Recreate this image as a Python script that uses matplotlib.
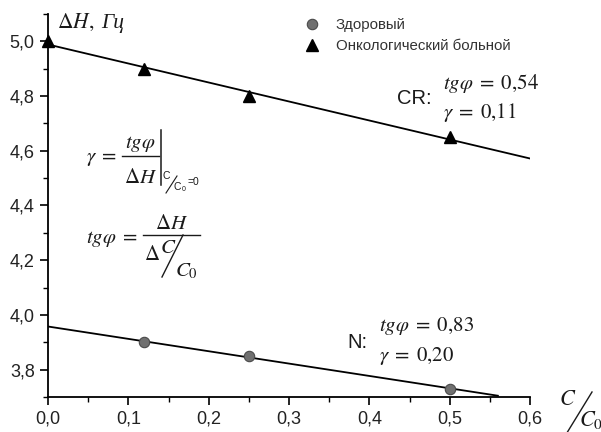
import numpy as np
import matplotlib.pyplot as plt
from matplotlib.lines import Line2D
from matplotlib.ticker import MultipleLocator, FuncFormatter

# Данные
x_cr = [0.0, 0.12, 0.25, 0.5]
y_cr = [5.0, 4.90, 4.80, 4.65]
x_n = [0.12, 0.25, 0.5]
y_n = [3.90, 3.85, 3.73]
legend_labels = ['Здоровый', 'Онкологический больной']

plt.rcParams['font.family'] = ['Liberation Sans', 'DejaVu Sans']
plt.rcParams['mathtext.fontset'] = 'stix'

W, H = 601, 432
fig = plt.figure(figsize=(W / 100, H / 100), dpi=100)
ax = fig.add_axes([48 / W, 1 - 397 / H, (530 - 48) / W, (397 - 14) / H])

def px(x, y):
    return x / W, 1 - y / H

def seg(x0, y0, x1, y1, lw=1.0):
    # отрезок в пикселях картинки
    fig.add_artist(Line2D([x0 / W, x1 / W], [1 - y0 / H, 1 - y1 / H],
                          transform=fig.transFigure, color='#1a1a1a', lw=lw))

def t(x, y, s, size=15, ha='left', va='baseline', **kw):
    fig.text(*px(x, y), s, fontsize=size, ha=ha, va=va, color='#1a1a1a', **kw)

# линейные аппроксимации
k_cr, b_cr = np.polyfit(x_cr, y_cr, 1)
k_n, b_n = np.polyfit(x_n, y_n, 1)
xx = np.array([0.0, 0.6])
ax.plot(xx, k_cr * xx + b_cr, color='black', lw=1.3, zorder=2)
xx = np.array([0.0, 0.56])
ax.plot(xx, k_n * xx + b_n, color='black', lw=1.3, zorder=2)

h1, = ax.plot(x_n, y_n, 'o', ms=7.5, mfc='#707070', mec='#4a4a4a', mew=0.8,
              ls='none', zorder=3, clip_on=False)
h2, = ax.plot(x_cr, y_cr, '^', ms=9, color='black', ls='none', zorder=3,
              clip_on=False)

ax.set_xlim(0, 0.6)
ax.set_ylim(3.7, 5.1)
ax.spines['top'].set_visible(False)
ax.spines['right'].set_visible(False)
for s in ['left', 'bottom']:
    ax.spines[s].set_linewidth(1.3)
ax.xaxis.set_major_locator(MultipleLocator(0.1))
ax.xaxis.set_minor_locator(MultipleLocator(0.05))
ax.yaxis.set_major_locator(MultipleLocator(0.2))
ax.yaxis.set_minor_locator(MultipleLocator(0.1))
fmt = FuncFormatter(lambda v, p: '{:.1f}'.format(v).replace('.', ','))
ax.xaxis.set_major_formatter(fmt)
ax.yaxis.set_major_formatter(fmt)
ax.tick_params(which='major', length=6, width=1.2, labelsize=13,
               direction='out', labelcolor='#222222')
ax.tick_params(which='minor', length=3.5, width=1.0, direction='out')

# легенда
leg = ax.legend([h1, h2], legend_labels, loc='upper left',
                bbox_to_anchor=px(291, 5), bbox_transform=fig.transFigure,
                frameon=False, fontsize=10.8, handletextpad=1.1,
                labelspacing=0.45, handlelength=1.0)
for txt in leg.get_texts():
    txt.set_color('#333333')

# подпись оси y
t(57, 28, r'$\Delta H,$', size=15.5)
t(101, 28, 'Гц', size=15.5, family='Liberation Serif', style='italic')

# подпись оси x  (C / C0)
t(568, 405, r'$C$', size=16, ha='center')
seg(565, 436, 592, 392)
t(579, 426, r'$C_0$', size=16)

# формула gamma
t(86, 162, r'$\gamma\;=$')
t(140, 148, r'$tg\varphi$', ha='center')
seg(122, 156, 159, 156)
t(141, 183, r'$\Delta H$', ha='center')
seg(161, 130, 161, 185, lw=1.1)
t(166, 179, 'C', size=7.5, ha='center', family='Liberation Sans')
seg(166, 193, 177, 176, lw=0.8)
t(177, 190, 'C', size=7.5, ha='center', family='Liberation Sans')
t(182, 191, '0', size=5, family='Liberation Sans')
t(187, 185, '=0', size=7.5, family='Liberation Sans')

# формула tg phi
t(86, 243, r'$tg\varphi\;=$')
seg(143, 235, 200, 235)
t(172, 229, r'$\Delta H$', ha='center')
t(144, 260, r'$\Delta$')
t(168, 253, r'$C$', ha='center')
seg(162, 277, 183, 235)
t(175, 276, r'$C_0$')

# CR
t(397, 104, 'CR:', size=14.5, family='Liberation Sans')
t(443, 89, r'$tg\varphi\;=\;0{,}54$', size=15)
t(443, 118, r'$\gamma\;=\;0{,}11$', size=15)

# N
t(347, 348, 'N:', size=14.5, family='Liberation Sans')
t(379, 331, r'$tg\varphi\;=\;0{,}83$', size=15)
t(379, 361, r'$\gamma\;=\;0{,}20$', size=15)

fig.savefig('out.png', dpi=100)
